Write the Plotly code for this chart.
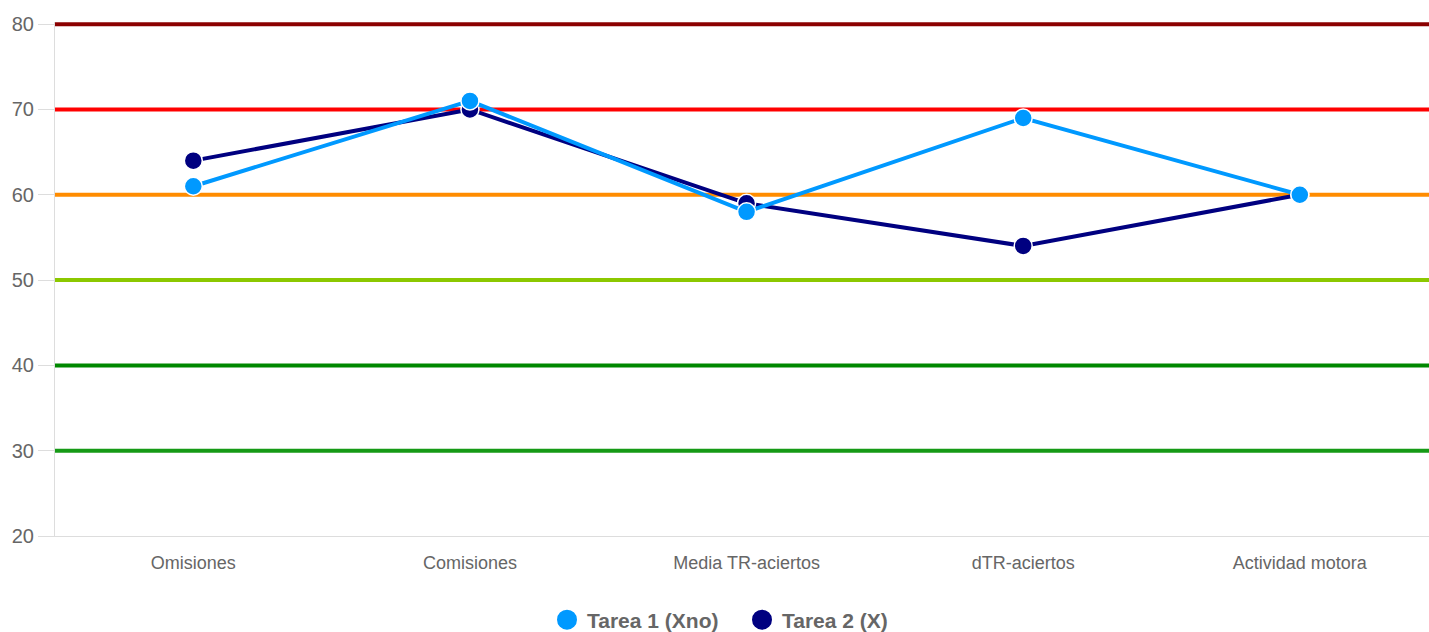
import plotly.graph_objects as go

categorias = ["Omisiones", "Comisiones", "Media TR-aciertos", "dTR-aciertos", "Actividad motora"]
tarea1 = [61, 71, 58, 69, 60]
tarea2 = [64, 70, 59, 54, 60]

umbrales = [80, 70, 60, 50, 40, 30]
colores_umbral = ["#8B0000", "#FF0000", "#FF8C00", "#8CC800", "#008800", "#169A16"]

AZUL_CLARO = "#0099FF"
AZUL_OSCURO = "#000080"

fig = go.Figure()

# lineas de referencia
for valor, color in zip(umbrales, colores_umbral):
    fig.add_shape(
        type="line", xref="paper", yref="y",
        x0=0, x1=1, y0=valor, y1=valor,
        line=dict(color=color, width=4),
        layer="below"
    )

fig.add_trace(go.Scatter(
    x=categorias, y=tarea2, name="Tarea 2 (X)",
    mode="lines+markers", showlegend=False,
    line=dict(color=AZUL_OSCURO, width=4),
    marker=dict(size=18, color=AZUL_OSCURO, line=dict(color="#ffffff", width=1.5))
))
fig.add_trace(go.Scatter(
    x=categorias, y=tarea1, name="Tarea 1 (Xno)",
    mode="lines+markers", showlegend=False,
    line=dict(color=AZUL_CLARO, width=4),
    marker=dict(size=18, color=AZUL_CLARO, line=dict(color="#ffffff", width=1.5))
))

# entradas de leyenda solo con circulo
for nombre, color in [("Tarea 1 (Xno)", AZUL_CLARO), ("Tarea 2 (X)", AZUL_OSCURO)]:
    fig.add_trace(go.Scatter(
        x=[None], y=[None], name=nombre, mode="markers",
        marker=dict(size=16, color=color, line=dict(color=color, width=4))
    ))

fig.update_layout(
    width=1429, height=632, autosize=False,
    plot_bgcolor="white", paper_bgcolor="white",
    margin=dict(t=22, b=96, l=55, r=0),
    font=dict(family="Liberation Sans, Arial, sans-serif", color="#666666"),
    showlegend=True,
    legend=dict(
        orientation="h", x=0.5, xanchor="center",
        yref="container", y=0.019, yanchor="middle",
        itemsizing="trace", entrywidth=150,
        font=dict(size=21, color="#666666", family="Liberation Sans, Arial, sans-serif", weight="bold")
    ),
    xaxis=dict(
        range=[-0.5, 4.467], showgrid=False, showline=True, linecolor="#dddddd",
        ticks="", tickfont=dict(size=18, color="#666666"), ticklabelstandoff=10
    ),
    yaxis=dict(
        range=[20, 80.25], tickvals=[20, 30, 40, 50, 60, 70, 80], showgrid=False,
        showline=True, linecolor="#dddddd",
        ticks="outside", ticklen=16, tickcolor="#dddddd", zeroline=False,
        tickfont=dict(size=20, color="#666666")
    ),
)

fig.write_html(
    "out.html",
    config={"displayModeBar": False},
    post_script="document.body.style.margin='0';document.body.style.overflow='hidden';"
)
